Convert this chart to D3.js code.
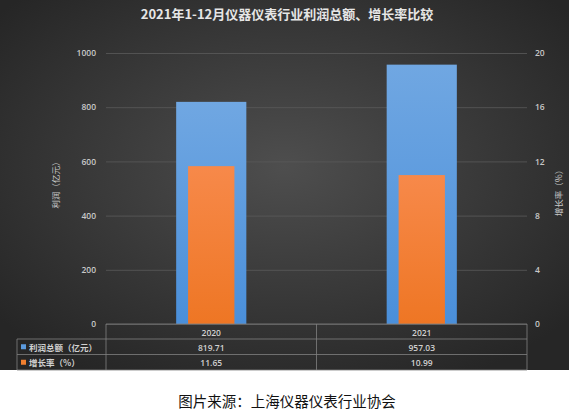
<!DOCTYPE html>
<html>
<head>
<meta charset="utf-8">
<script src="https://cdn.jsdelivr.net/npm/d3@7"></script>
<style>
  body { margin: 0; background: #fff; }
  svg { display: block; }
</style>
</head>
<body>
<div id="chart"></div>
<script>
// values
var years = ["2020", "2021"];
var profit = [819.71, 957.03];      // 利润总额（亿元）
var growth = [11.65, 10.99];        // 增长率（%）
var leftTicks = [0, 200, 400, 600, 800, 1000];
var rightTicks = [0, 4, 8, 12, 16, 20];
var seriesNames = ["利润总额（亿元）", "增长率（%）"];
var seriesColors = ["#5b9bdf", "#f07f30"];

var W = 569, H = 412;
var darkH = 370;
var plot = { left: 106, right: 527, top: 53, bottom: 324 };
var cjk = "'Noto Sans CJK SC', 'Noto Sans', sans-serif";

var svg = d3.select("#chart")
  .append("svg")
  .attr("width", W)
  .attr("height", H);

var defs = svg.append("defs");
var bg = defs.append("radialGradient")
  .attr("id", "bg")
  .attr("cx", "50%").attr("cy", "45%").attr("r", "65%");
bg.append("stop").attr("offset", "0%").attr("stop-color", "#4e4e4e");
bg.append("stop").attr("offset", "100%").attr("stop-color", "#262626");

var gBlue = defs.append("linearGradient")
  .attr("id", "blue").attr("x1", 0).attr("y1", 0).attr("x2", 0).attr("y2", 1);
gBlue.append("stop").attr("offset", "0%").attr("stop-color", "#70a7e2");
gBlue.append("stop").attr("offset", "100%").attr("stop-color", "#4a8fda");

var gOrange = defs.append("linearGradient")
  .attr("id", "orange").attr("x1", 0).attr("y1", 0).attr("x2", 0).attr("y2", 1);
gOrange.append("stop").attr("offset", "0%").attr("stop-color", "#f7894a");
gOrange.append("stop").attr("offset", "100%").attr("stop-color", "#ee7624");

svg.append("rect")
  .attr("width", W)
  .attr("height", darkH)
  .attr("fill", "url(#bg)");

var x = d3.scaleBand()
  .domain(years)
  .range([plot.left, plot.right]);

var yLeft = d3.scaleLinear()
  .domain([0, 1000])
  .range([plot.bottom, plot.top]);

var yRight = d3.scaleLinear()
  .domain([0, 20])
  .range([plot.bottom, plot.top]);

// gridlines
svg.append("g")
  .attr("transform", "translate(" + plot.left + ",0)")
  .call(d3.axisLeft(yLeft).tickValues(leftTicks).tickSize(-(plot.right - plot.left)).tickFormat(""))
  .call(function (g) {
    g.select(".domain").remove();
    g.selectAll("line").attr("stroke", "#5a5a5a").attr("stroke-width", 0.8);
  });

// tick labels
svg.append("g")
  .attr("transform", "translate(96,0)")
  .call(d3.axisLeft(yLeft).tickValues(leftTicks).tickSize(0).tickPadding(0).tickFormat(d3.format("d")))
  .call(function (g) {
    g.select(".domain").remove();
    g.selectAll("text")
      .attr("fill", "#c8c8c8")
      .style("font-family", "'Open Sans', sans-serif")
      .style("font-size", "8.5px")
      .style("font-weight", "600");
  });

svg.append("g")
  .attr("transform", "translate(535,0)")
  .call(d3.axisRight(yRight).tickValues(rightTicks).tickSize(0).tickPadding(0).tickFormat(d3.format("d")))
  .call(function (g) {
    g.select(".domain").remove();
    g.selectAll("text")
      .attr("fill", "#c8c8c8")
      .style("font-family", "'Open Sans', sans-serif")
      .style("font-size", "8.5px")
      .style("font-weight", "600");
  });

// bars
var bw = x.bandwidth();
svg.selectAll("rect.profit")
  .data(profit)
  .enter()
  .append("rect")
  .attr("class", "profit")
  .attr("x", function (d, i) { return x(years[i]) + bw / 3; })
  .attr("width", bw / 3)
  .attr("y", function (d) { return yLeft(d); })
  .attr("height", function (d) { return plot.bottom - yLeft(d); })
  .attr("fill", "url(#blue)");

svg.selectAll("rect.growth")
  .data(growth)
  .enter()
  .append("rect")
  .attr("class", "growth")
  .attr("x", function (d, i) { return x(years[i]) + bw / 2 - bw * 0.11; })
  .attr("width", bw * 0.22)
  .attr("y", function (d) { return yRight(d); })
  .attr("height", function (d) { return plot.bottom - yRight(d); })
  .attr("fill", "url(#orange)");

// data table under the axis
var rowY = [324, 339, 354.5, 370];
var tableLeft = 17;
var lineColor = "#808080";
var table = svg.append("g").attr("stroke", lineColor).attr("stroke-width", 0.8);

table.append("line")
  .attr("x1", plot.left).attr("x2", plot.right)
  .attr("y1", rowY[0]).attr("y2", rowY[0]);
[1, 2, 3].forEach(function (r) {
  table.append("line")
    .attr("x1", tableLeft).attr("x2", plot.right)
    .attr("y1", rowY[r]).attr("y2", rowY[r]);
});
table.append("line")
  .attr("x1", tableLeft).attr("x2", tableLeft)
  .attr("y1", rowY[1]).attr("y2", rowY[3]);
years.concat([null]).forEach(function (yr) {
  var xx = yr ? x(yr) : plot.right;
  table.append("line")
    .attr("x1", xx).attr("x2", xx)
    .attr("y1", rowY[0]).attr("y2", rowY[3]);
});

var cellText = function (txt, cx, cy) {
  svg.append("text")
    .attr("x", cx).attr("y", cy)
    .attr("text-anchor", "middle")
    .attr("dominant-baseline", "central")
    .attr("fill", "#d0d0d0")
    .style("font-family", "'Open Sans', sans-serif")
    .style("font-size", "8.5px")
    .style("font-weight", "600")
    .text(txt);
};

years.forEach(function (yr, i) {
  var cx = x(yr) + bw / 2;
  cellText(yr, cx, (rowY[0] + rowY[1]) / 2 + 1);
  cellText(profit[i].toFixed(2), cx, (rowY[1] + rowY[2]) / 2 + 0.5);
  cellText(growth[i].toFixed(2), cx, (rowY[2] + rowY[3]) / 2);
});

seriesNames.forEach(function (name, i) {
  var cy = (rowY[i + 1] + rowY[i + 2]) / 2;
  svg.append("rect")
    .attr("x", 21).attr("y", cy - 2.5)
    .attr("width", 5).attr("height", 5)
    .attr("fill", seriesColors[i]);
  svg.append("text")
    .attr("x", 29).attr("y", cy)
    .attr("dominant-baseline", "central")
    .attr("fill", "#d0d0d0")
    .style("font-family", cjk)
    .style("font-size", "8.5px")
    .style("font-weight", "bold")
    .text(name);
});

// title
svg.append("text")
  .attr("x", 287).attr("y", 13)
  .attr("text-anchor", "middle")
  .attr("dominant-baseline", "central")
  .attr("fill", "#e6e6e6")
  .style("font-family", cjk)
  .style("font-size", "13px")
  .style("font-weight", "bold")
  .text("2021年1-12月仪器仪表行业利润总额、增长率比较");

// axis titles
svg.append("text")
  .attr("transform", "translate(55,183) rotate(-90)")
  .attr("text-anchor", "middle")
  .attr("dominant-baseline", "central")
  .attr("fill", "#c8c8c8")
  .style("font-family", cjk)
  .style("font-size", "8.5px")
  .text("利润（亿元）");

svg.append("text")
  .attr("transform", "translate(558,191) rotate(-90)")
  .attr("text-anchor", "middle")
  .attr("dominant-baseline", "central")
  .attr("fill", "#c8c8c8")
  .style("font-family", cjk)
  .style("font-size", "8.5px")
  .text("增长率（%）");

// caption
svg.append("text")
  .attr("x", 287).attr("y", 400)
  .attr("text-anchor", "middle")
  .attr("dominant-baseline", "central")
  .attr("fill", "#111")
  .style("font-family", cjk)
  .style("font-size", "14.5px")
  .text("图片来源：上海仪器仪表行业协会");
</script>
</body>
</html>
